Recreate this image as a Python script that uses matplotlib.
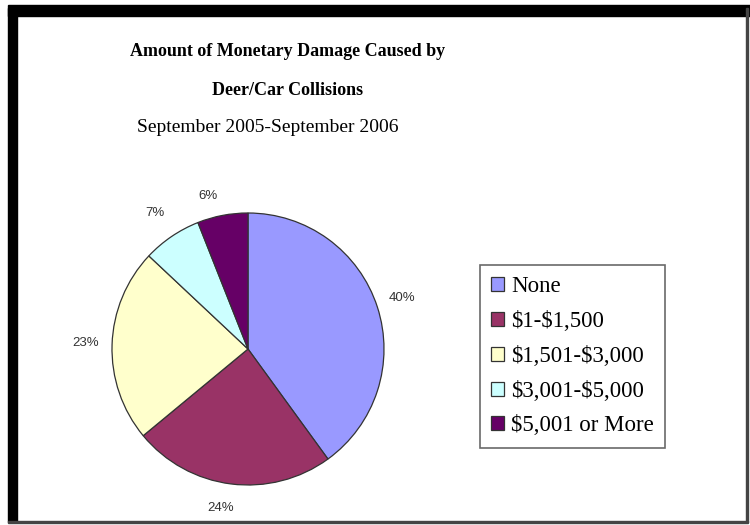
import matplotlib.pyplot as plt
from matplotlib.patches import Rectangle

# gegevens uit de grafiek
categorieen = ['None', '$1-$1,500', '$1,501-$3,000', '$3,001-$5,000', '$5,001 or More']
percentages = [40, 24, 23, 7, 6]
kleuren = ['#9999FF', '#993366', '#FFFFCC', '#CCFFFF', '#660066']

W, H = 750, 525
fig = plt.figure(figsize=(W / 100, H / 100), dpi=100)
fig.patch.set_facecolor('white')

# zwarte rand (dik links en boven, dun rechts en onder)
fig.patches.append(Rectangle((8 / W, 1 - 16 / H), 1, 11 / H, transform=fig.transFigure,
                             color='black', zorder=5))
fig.patches.append(Rectangle((8 / W, 3 / H), 9 / W, 1 - 11 / H, transform=fig.transFigure,
                             color='black', zorder=5))
fig.patches.append(Rectangle((746 / W, 3 / H), 2 / W, 1 - 11 / H, transform=fig.transFigure,
                             color='#444444', zorder=5))
fig.patches.append(Rectangle((8 / W, 2 / H), 740 / W, 2 / H, transform=fig.transFigure,
                             color='#444444', zorder=5))

serif = ['Liberation Serif', 'DejaVu Serif']
fig.text(288 / W, 1 - 52 / H, 'Amount of Monetary Damage Caused by', ha='center', va='center',
         fontsize=13, fontweight='bold', family=serif)
fig.text(288 / W, 1 - 90 / H, 'Deer/Car Collisions', ha='center', va='center',
         fontsize=13, fontweight='bold', family=serif)
fig.text(268 / W, 1 - 128 / H, 'September 2005-September 2006', ha='center', va='center',
         fontsize=14, family=serif)

# taart
r = 136
cx, cy = 248, 349
ax = fig.add_axes([(cx - r) / W, 1 - (cy + r) / H, 2 * r / W, 2 * r / H])
wedges, _ = ax.pie(percentages, colors=kleuren, startangle=90, counterclock=False,
                   wedgeprops=dict(edgecolor='#333333', linewidth=0.9))
ax.set_xlim(-1, 1)
ax.set_ylim(-1, 1)
ax.set_aspect('equal')

# labels buiten de taart
label_pos = [(402, 298), (221, 508), (86, 343), (155, 213), (208, 196)]
for p, (lx, ly) in zip(percentages, label_pos):
    fig.text(lx / W, 1 - ly / H, f'{p}%', ha='center', va='center', fontsize=9.5,
             color='#333333', family=['Liberation Sans', 'DejaVu Sans'])

# legenda ($ escapen, anders mathtext)
labels = [c.replace('$', r'\$') for c in categorieen]
leg = fig.legend(wedges, labels, loc='upper left',
                 bbox_to_anchor=(480 / W, 1 - 265 / H), bbox_transform=fig.transFigure,
                 prop={'family': serif, 'size': 16.5}, frameon=True, fancybox=False,
                 edgecolor='#444444', handlelength=0.55, handleheight=0.55,
                 handletextpad=0.3, labelspacing=0.6, borderpad=0.5, borderaxespad=0)
leg.get_frame().set_linewidth(1.2)

fig.savefig('out.png', dpi=100)
